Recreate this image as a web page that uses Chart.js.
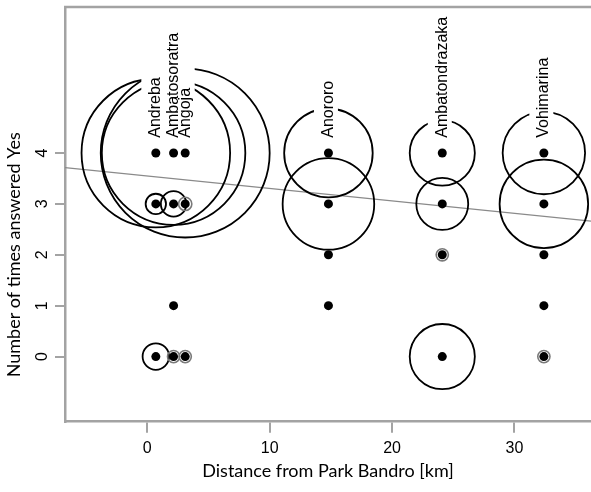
<!DOCTYPE html>
<html>
<head>
<meta charset="utf-8">
<script src="https://cdn.jsdelivr.net/npm/chart.js@4/dist/chart.umd.min.js"></script>
<style>
  html, body { margin: 0; padding: 0; background: #fff; }
  #wrap { width: 591px; height: 492px; }
</style>
</head>
<body>
<div id="wrap"><canvas id="plot" width="591" height="492"></canvas></div>
<script>
// villages and their distance from the park (km)
const sites = ['Andreba', 'Ambatosoratra', 'Angoja', 'Anororo', 'Ambatondrazaka', 'Vohimarina'];
const distanceKm = [0.7, 2.15, 3.1, 14.8, 24.1, 32.4];

// number of times answered Yes, observed per village
const yesCounts = [
    [4, 3, 0],
    [4, 3, 1, 0],
    [4, 3, 0],
    [4, 3, 2, 1],
    [4, 3, 2, 0],
    [4, 3, 2, 1, 0]
];
// circle size for each observation above (in y-axis units, 0 = no circle)
const circleSizes = [
    [1.46, 0.2, 0.26],
    [1.41, 0.25, 0, 0.12],
    [1.66, 0.13, 0.12],
    [0.87, 0.9, 0, 0],
    [0.64, 0.51, 0.12, 0.64],
    [0.81, 0.87, 0, 0, 0.12]
];

// fitted line: intercept, slope
const trend = [3.55, -0.0245];

const xTicks = [0, 10, 20, 30];
const yTicks = [0, 1, 2, 3, 4];
const xRange = [-6.72, 36.25];
const yRange = [-1.28, 6.87];
const labelAt = 4.3;

var dots = [];
var rings = [];
sites.forEach(function (name, i) {
    yesCounts[i].forEach(function (v, j) {
        dots.push({x: distanceKm[i], y: v});
        if (circleSizes[i][j] > 0) {
            rings.push({x: distanceKm[i], y: v, s: circleSizes[i][j]});
        }
    });
});
var trendPts = xRange.map(function (xv) {
    return {x: xv, y: trend[0] + trend[1] * xv};
});

function unitPx(chart) {
    var y = chart.scales.y;
    return y.getPixelForValue(0) - y.getPixelForValue(1);
}

const axisGrey = '#a3a3a3';

const extras = {
    id: 'extras',
    afterDatasetsDraw: function (chart) {
        var ctx = chart.ctx, area = chart.chartArea;
        var x = chart.scales.x, y = chart.scales.y;
        ctx.save();
        // white boxes behind the village names
        ctx.fillStyle = '#fff';
        sites.forEach(function (name, i) {
            var px = x.getPixelForValue(distanceKm[i]);
            var py = y.getPixelForValue(labelAt);
            ctx.fillRect(px - 14.5, area.top + 12, 24, py - area.top - 9);
        });
        ctx.fillStyle = '#000';
        ctx.font = '16px "Liberation Sans", Arial, sans-serif';
        ctx.textAlign = 'left';
        ctx.textBaseline = 'middle';
        sites.forEach(function (name, i) {
            var px = x.getPixelForValue(distanceKm[i]);
            var py = y.getPixelForValue(labelAt);
            ctx.save();
            ctx.translate(px, py);
            ctx.rotate(-Math.PI / 2);
            ctx.fillText(name, 0, 0);
            ctx.restore();
        });
        ctx.restore();
    },
    afterDraw: function (chart) {
        var ctx = chart.ctx, area = chart.chartArea;
        var y = chart.scales.y;
        ctx.save();
        // top frame line
        ctx.strokeStyle = axisGrey;
        ctx.lineWidth = 2.5;
        ctx.beginPath();
        ctx.moveTo(area.left - 1, area.top);
        ctx.lineTo(chart.width, area.top);
        ctx.stroke();

        ctx.fillStyle = '#000';
        ctx.textAlign = 'center';
        ctx.textBaseline = 'middle';
        // rotated y tick labels
        ctx.font = '16px "Liberation Sans", Arial, sans-serif';
        yTicks.forEach(function (v) {
            ctx.save();
            ctx.translate(43, y.getPixelForValue(v));
            ctx.rotate(-Math.PI / 2);
            ctx.fillText(String(v), 0, 0);
            ctx.restore();
        });
        // axis titles
        ctx.font = '18px Lato, sans-serif';
        ctx.fillText('Distance from Park Bandro [km]', (area.left + area.right) / 2, 471);
        var midY = (y.getPixelForValue(yTicks[0]) + y.getPixelForValue(yTicks[yTicks.length - 1])) / 2;
        ctx.save();
        ctx.translate(14, midY);
        ctx.rotate(-Math.PI / 2);
        ctx.fillText('Number of times answered Yes', 0, 0);
        ctx.restore();
        ctx.restore();
    }
};

var chart = new Chart(document.getElementById('plot').getContext('2d'), {
    type: 'scatter',
    data: {
        datasets: [
            {
                label: 'observations',
                data: dots,
                pointRadius: 4.5,
                pointBackgroundColor: '#000',
                pointBorderWidth: 0
            },
            {
                label: 'circles',
                data: rings,
                pointBackgroundColor: 'rgba(0,0,0,0)',
                pointBorderColor: function (c) {
                    return c.raw && c.raw.s < 0.15 ? '#7a7a7a' : '#000';
                },
                pointBorderWidth: function (c) {
                    return c.raw && c.raw.s < 0.15 ? 1.6 : 1.8;
                },
                pointRadius: function (c) {
                    return c.raw ? c.raw.s * unitPx(c.chart) : 0;
                }
            },
            {
                type: 'line',
                label: 'trend',
                data: trendPts,
                borderColor: '#8a8a8a',
                borderWidth: 1.2,
                pointRadius: 0,
                fill: false
            }
        ]
    },
    options: {
        responsive: false,
        animation: false,
        devicePixelRatio: 1,
        layout: {autoPadding: false, padding: {left: 0, top: 7, right: 0, bottom: 0}},
        plugins: {
            legend: {display: false},
            tooltip: {enabled: false}
        },
        scales: {
            x: {
                type: 'linear',
                min: xRange[0],
                max: xRange[1],
                afterBuildTicks: function (axis) {
                    axis.ticks = xTicks.map(function (v) { return {value: v}; });
                },
                afterFit: function (axis) { axis.height = 70.3; },
                grid: {drawOnChartArea: false, drawTicks: true, tickLength: 11, color: axisGrey, lineWidth: 2},
                border: {display: true, color: axisGrey, width: 2.5},
                ticks: {
                    color: '#000',
                    padding: 6,
                    maxRotation: 0,
                    font: {family: '"Liberation Sans", Arial, sans-serif', size: 16}
                }
            },
            y: {
                type: 'linear',
                min: yRange[0],
                max: yRange[1],
                afterBuildTicks: function (axis) {
                    axis.ticks = yTicks.map(function (v) { return {value: v}; });
                },
                afterFit: function (axis) { axis.width = 65; },
                grid: {drawOnChartArea: false, drawTicks: true, tickLength: 10, color: axisGrey, lineWidth: 2},
                border: {display: true, color: axisGrey, width: 2.5},
                ticks: {display: false}
            }
        }
    },
    plugins: [extras]
});
</script>
</body>
</html>
